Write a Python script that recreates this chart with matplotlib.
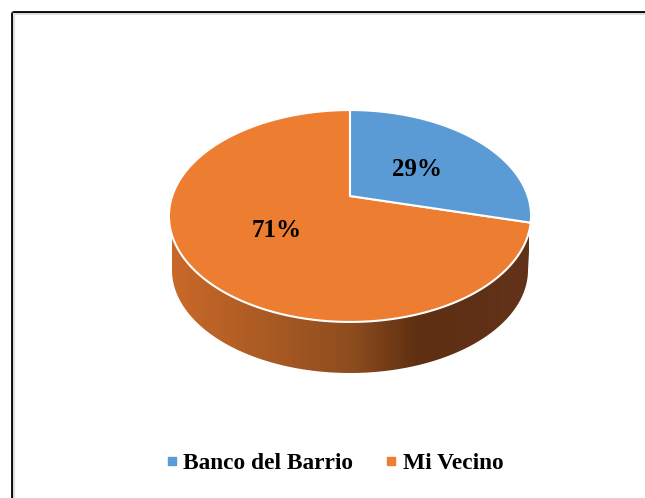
import numpy as np
import matplotlib
matplotlib.use('Agg')
from matplotlib import pyplot as plt
from matplotlib.colors import LinearSegmentedColormap
from matplotlib.lines import Line2D

labels = ['Banco del Barrio', 'Mi Vecino']
shares = [29, 71]
slice_colors = ['#5B9BD5', '#ED7D31']
wall_stops = [0.0, 0.5, 0.69, 1.0]
wall_colors = ['#C9692A', '#8E4D1E', '#5E2F12', '#62321A']

plt.rcParams['font.family'] = ['Liberation Serif']

fig = plt.figure(figsize=(6.45, 4.98), dpi=100)
ax = fig.add_axes([0, 0, 1, 1])
ax.axis('off')


# tilted disc: unit circle to image pixels, with perspective
def project(u, v):
    w = 1 + 0.1887 * v
    return 350 + 177.8 * u / w, (196 - 65.2 * v) / w


# frame, open on the right and bottom edges of the image
ax.plot([11.5, 11.5], [498, 11.5], color='black', lw=2, solid_capstyle='butt')
ax.plot([11.5, 645], [11.5, 11.5], color='black', lw=2, solid_capstyle='butt')
ax.plot([14, 14], [498, 14], color='#dddddd', lw=1.5)
ax.plot([14, 645], [14, 14], color='#dddddd', lw=1.5)

# side wall
t = np.linspace(0, np.pi, 200)
top_x = 350 + 181 * np.cos(t)
top_y = 216 + 106 * np.sin(t)
low_x = 350 + 178 * np.cos(t)
low_y = 270 + 103 * np.sin(t)
wall_x = np.r_[top_x, low_x[::-1]]
wall_y = np.r_[top_y, low_y[::-1]]
cmap = LinearSegmentedColormap.from_list('wall', list(zip(wall_stops, wall_colors)))
img = ax.imshow(np.linspace(0, 1, 400).reshape(1, -1), cmap=cmap, aspect='auto',
                extent=[172, 529, 373, 216], zorder=1)
clip = plt.Polygon(np.c_[wall_x, wall_y], transform=ax.transData, fc='none', ec='none')
ax.add_patch(clip)
img.set_clip_path(clip)

# top face, slices run clockwise from twelve o'clock
edges = np.cumsum([0] + shares) / sum(shares) * 2 * np.pi
for i in [1, 0]:
    a = np.linspace(edges[i], edges[i + 1], 200)
    x, y = project(np.sin(a), np.cos(a))
    cx, cy = project(0, 0)
    ax.fill(np.r_[cx, x], np.r_[cy, y], color=slice_colors[i], ec='white', lw=1.5,
            joinstyle='round', zorder=3)

ax.text(417, 169, f'{shares[0]}%', fontsize=18, fontweight='bold', ha='center', va='center', zorder=5)
ax.text(277, 230, f'{shares[1]}%', fontsize=18, fontweight='bold', ha='center', va='center', zorder=5)

ax.set_xlim(0, 645)
ax.set_ylim(498, 0)
ax.set_aspect('auto')

# legend
handles = [Line2D([], [], marker='s', linestyle='none', color=c, markersize=5.5) for c in slice_colors]
ax.legend(handles, labels, loc='center', bbox_to_anchor=(334 / 645, 1 - 463 / 498), ncol=2,
          frameon=False, prop={'size': 16.8, 'weight': 'bold'}, handlelength=0.6,
          handletextpad=0.2, columnspacing=1.33)

fig.savefig('out.png', dpi=100)
